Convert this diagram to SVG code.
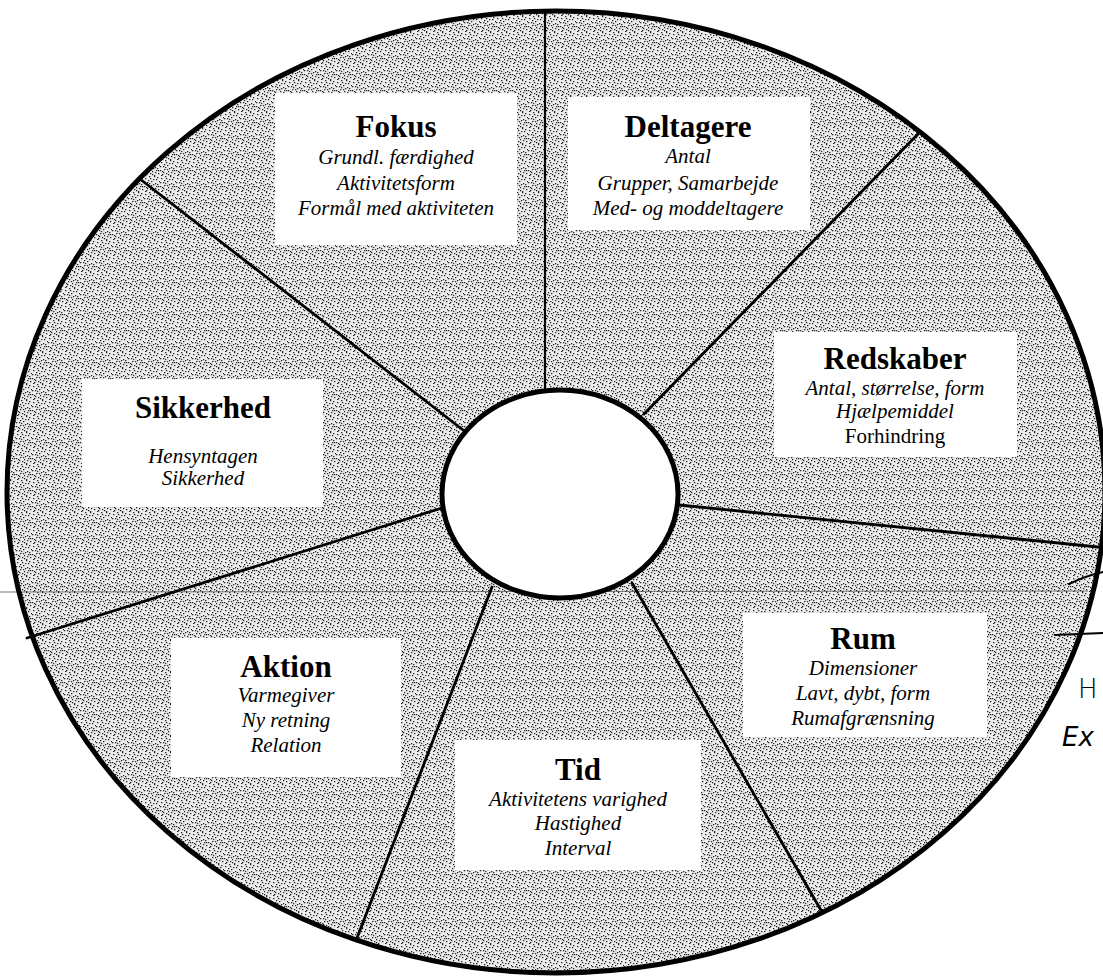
<svg xmlns="http://www.w3.org/2000/svg" width="1103" height="976" viewBox="0 0 1103 976">
<style>
.h{font-family:"Liberation Serif","Times New Roman",serif;font-weight:bold;font-size:31px;text-anchor:middle;fill:#000}
.i{font-family:"Liberation Serif","Times New Roman",serif;font-style:italic;font-size:21px;text-anchor:middle;fill:#000}
.r{font-family:"Liberation Serif","Times New Roman",serif;font-size:21px;text-anchor:middle;fill:#000}
.box{fill:#fff;stroke:none}
.spoke{stroke:#000;stroke-width:2.8;stroke-linecap:round;fill:none}
.hand{stroke:#000;stroke-width:2;fill:none;stroke-linecap:round}
.hw{font-family:"DejaVu Sans",sans-serif;font-size:26px;font-weight:200;fill:#000}
</style>
<defs>
<pattern id="stip" width="16" height="16" patternUnits="userSpaceOnUse">
<rect width="16" height="16" fill="#ededed"/>
<path fill="#222" d="M1 2h1.3v1.3h-1.3zM5 0h1.3v1.3h-1.3zM9 3h1.3v1.3h-1.3zM13 1h1.3v1.3h-1.3zM3 6h1.3v1.3h-1.3zM7 5h1.3v1.3h-1.3zM11 7h1.3v1.3h-1.3zM15 5h1v1.3h-1zM0 10h1.3v1.3h-1.3zM4 9h1.3v1.3h-1.3zM8 11h1.3v1.3h-1.3zM12 10h1.3v1.3h-1.3zM2 14h1.3v1.3h-1.3zM6 13h1.3v1.3h-1.3zM10 15h1.3v1h-1.3zM14 13h1.3v1.3h-1.3zM6 2h1.3v1.3h-1.3zM2 11h1.3v1.3h-1.3zM13 8h1.3v1.3h-1.3zM9 8h1.3v1.3h-1.3zM4 4h1.3v1.3h-1.3zM11 12h1.3v1.3h-1.3zM0 6h1.3v1.3h-1.3zM8 14h1.3v1.3h-1.3zM12 3h1.3v1.3h-1.3zM5 7h1.3v1.3h-1.3zM14 10h1.3v1.3h-1.3zM1 15h1.3v1h-1.3zM7 9h1.3v1.3h-1.3zM10 0h1.3v1.3h-1.3zM3 12h1.3v1.3h-1.3z"/>
</pattern>
</defs>
<rect width="1103" height="976" fill="#fff"/>
<g id="wheel">
<ellipse cx="556" cy="492" rx="549" ry="481" fill="url(#stip)"/>
</g>
<line x1="0" y1="592" x2="1088" y2="591" stroke="#555" stroke-width="1" opacity="0.8"/>
<g id="connectors">
<line class="spoke" x1="545" y1="392" x2="545" y2="11" style="stroke-width:2.2"/>
<line class="spoke" x1="644" y1="414" x2="918" y2="134"/>
<line class="spoke" x1="679" y1="505" x2="1098" y2="547"/>
<line class="spoke" x1="632" y1="583" x2="822" y2="912"/>
<line class="spoke" x1="492" y1="587" x2="357" y2="938"/>
<line class="spoke" x1="442" y1="508" x2="27" y2="638"/>
<line class="spoke" x1="463" y1="430" x2="140" y2="179"/>
</g>
<ellipse cx="556" cy="492" rx="549" ry="481" fill="none" stroke="#000" stroke-width="5"/>
<g id="center">
<ellipse cx="560" cy="494" rx="118" ry="104" fill="#fff" stroke="#000" stroke-width="5"/>
</g>
<g id="fokus">
<rect class="box" x="275" y="93" width="242" height="152"/>
<text class="h" x="396" y="137">Fokus</text>
<text class="i" x="396" y="164">Grundl. færdighed</text>
<text class="i" x="396" y="190">Aktivitetsform</text>
<text class="i" x="396" y="215">Formål med aktiviteten</text>
</g>
<g id="deltagere">
<rect class="box" x="568" y="97" width="242" height="133"/>
<text class="h" x="688" y="137">Deltagere</text>
<text class="i" x="688" y="163">Antal</text>
<text class="i" x="688" y="190">Grupper, Samarbejde</text>
<text class="i" x="688" y="215">Med- og moddeltagere</text>
</g>
<g id="redskaber">
<rect class="box" x="774" y="332" width="243" height="125"/>
<text class="h" x="895" y="369">Redskaber</text>
<text class="i" x="895" y="395">Antal, størrelse, form</text>
<text class="i" x="895" y="418">Hjælpemiddel</text>
<text class="r" x="895" y="443">Forhindring</text>
</g>
<g id="sikkerhed">
<rect class="box" x="82" y="379" width="241" height="128"/>
<text class="h" x="203" y="418">Sikkerhed</text>
<text class="i" x="203" y="463">Hensyntagen</text>
<text class="i" x="203" y="485">Sikkerhed</text>
</g>
<g id="aktion">
<rect class="box" x="171" y="638" width="230" height="139"/>
<text class="h" x="286" y="677">Aktion</text>
<text class="i" x="286" y="702">Varmegiver</text>
<text class="i" x="286" y="727">Ny retning</text>
<text class="i" x="286" y="752">Relation</text>
</g>
<g id="tid">
<rect class="box" x="455" y="740" width="246" height="130"/>
<text class="h" x="578" y="780">Tid</text>
<text class="i" x="578" y="806">Aktivitetens varighed</text>
<text class="i" x="578" y="830">Hastighed</text>
<text class="i" x="578" y="855">Interval</text>
</g>
<g id="rum">
<rect class="box" x="743" y="613" width="244" height="124"/>
<text class="h" x="863" y="649">Rum</text>
<text class="i" x="863" y="675">Dimensioner</text>
<text class="i" x="863" y="700">Lavt, dybt, form</text>
<text class="i" x="863" y="725">Rumafgrænsning</text>
</g>
<g id="handwriting">
<path class="hand" d="M1069 584 Q1085 576 1103 572"/>
<path class="hand" d="M1055 635 L1103 633"/>
<text class="hw" x="1078" y="698">H</text>
<text class="hw" x="1062" y="746" style="font-style:italic">Ex</text>
</g>
</svg>
